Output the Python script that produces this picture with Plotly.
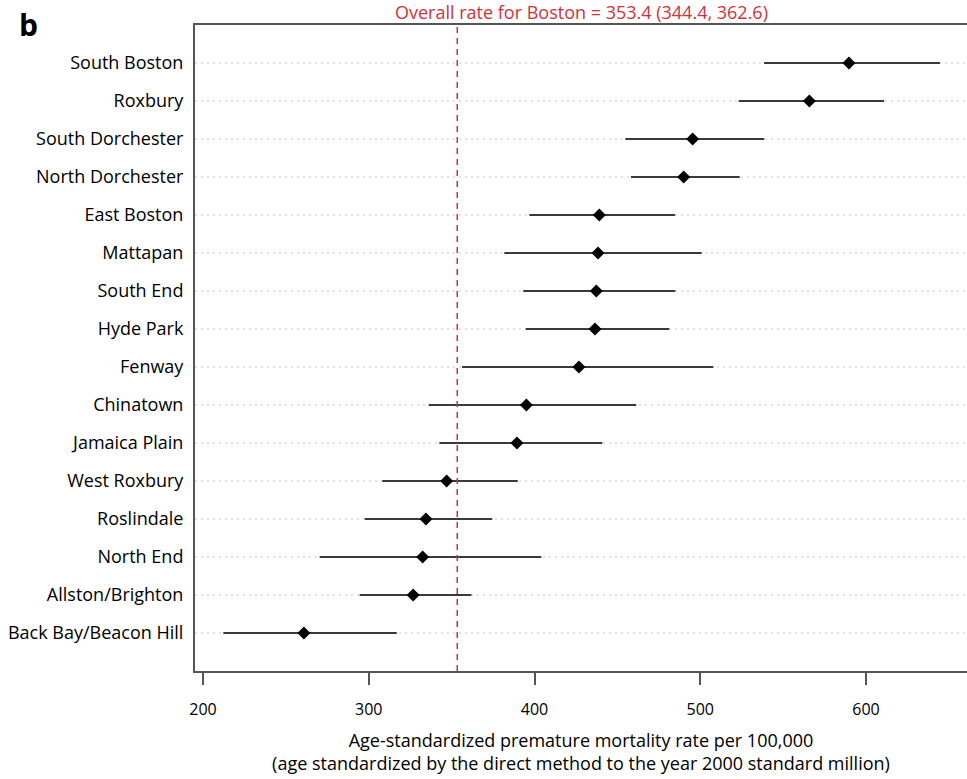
import plotly.graph_objects as go

neighborhoods = ["South Boston", "Roxbury", "South Dorchester", "North Dorchester",
                 "East Boston", "Mattapan", "South End", "Hyde Park", "Fenway",
                 "Chinatown", "Jamaica Plain", "West Roxbury", "Roslindale",
                 "North End", "Allston/Brighton", "Back Bay/Beacon Hill"]
rate = [589.7, 565.8, 495.4, 490.0, 439.1, 438.3, 437.3, 436.5, 426.8,
        395.1, 389.4, 347.0, 334.5, 332.5, 326.8, 260.9]
lower = [538.5, 523.2, 454.8, 458.2, 396.9, 381.8, 393.2, 394.7, 356.3,
         336.2, 342.6, 308.2, 297.6, 270.4, 294.5, 212.3]
upper = [644.6, 610.9, 538.6, 523.8, 484.8, 500.9, 484.9, 481.3, 507.9,
         461.4, 440.9, 389.9, 374.5, 404.1, 361.9, 316.9]
overall = 353.4
overall_ci = (344.4, 362.6)
xticks = [200, 300, 400, 500, 600]

n = len(neighborhoods)
ypos = [n - i for i in range(n)]

FONT = "Open Sans"
XMIN, XMAX = 195.2, 660.9

fig = go.Figure()

# dotted guide lines
gx, gy = [], []
for y in ypos:
    gx += [XMIN, XMAX, None]
    gy += [y, y, None]
fig.add_trace(go.Scatter(x=gx, y=gy, mode="lines",
                         line=dict(color="#c8c8c8", width=1.2, dash="2px,4px"),
                         hoverinfo="skip", showlegend=False))

# CI lines
cx, cy = [], []
for lo, hi, y in zip(lower, upper, ypos):
    cx += [lo, hi, None]
    cy += [y, y, None]
fig.add_trace(go.Scatter(x=cx, y=cy, mode="lines",
                         line=dict(color="#3a3a3a", width=2.2),
                         hoverinfo="skip", showlegend=False))

# points
fig.add_trace(go.Scatter(x=rate, y=ypos, mode="markers",
                         marker=dict(symbol="diamond", size=10, color="black"),
                         text=neighborhoods, showlegend=False))

# overall line
fig.add_shape(type="line", xref="x", yref="paper", x0=overall, x1=overall, y0=0, y1=1,
              line=dict(color="#d0323a", width=1.5, dash="6px,5px"))

fig.add_annotation(xref="paper", yref="paper", x=0.5, y=1.0, yshift=13,
                   xanchor="center", yanchor="middle",
                   text=f"Overall rate for Boston = {overall} ({overall_ci[0]}, {overall_ci[1]})",
                   showarrow=False, font=dict(family=FONT, size=18, color="#d0323a"))
fig.add_annotation(xref="paper", yref="paper", x=-0.2163, y=1.0, yshift=1,
                   xanchor="center", yanchor="middle",
                   text="<b>b</b>", showarrow=False,
                   font=dict(family=FONT, size=30, color="black"))

fig.update_layout(
    width=967, height=779,
    margin=dict(l=195, r=0, t=25, b=108),
    plot_bgcolor="white", paper_bgcolor="white",
    font=dict(family=FONT, size=18, color="black"),
    xaxis=dict(range=[XMIN, XMAX], tickvals=xticks, ticktext=[str(t) for t in xticks],
               showgrid=False, zeroline=False, showline=True, mirror=True,
               linecolor="#555555", linewidth=2,
               ticks="outside", ticklen=12, tickwidth=1.5, tickcolor="#555555",
               tickfont=dict(size=16), ticklabelstandoff=11,
               title=dict(text="Age-standardized premature mortality rate per 100,000<br>(age standardized by the direct method to the year 2000 standard million)",
                          font=dict(size=18), standoff=15)),
    yaxis=dict(range=[0, 17], tickvals=ypos, ticktext=neighborhoods,
               showgrid=False, zeroline=False, showline=True, mirror=False,
               linecolor="#555555", linewidth=2, ticks="",
               ticklabelstandoff=6, tickfont=dict(size=18)),
)

fig.write_html("out.html", config={"displayModeBar": False},
               post_script="document.body.style.margin='0px';")
